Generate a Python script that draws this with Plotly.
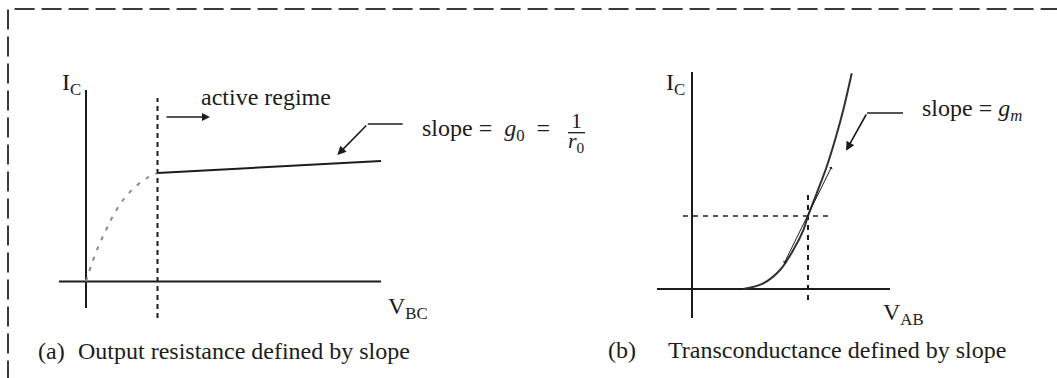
import plotly.graph_objects as go

W, H = 1057, 378

# ---- panel (a): I_C versus V_BC ----
sat_v = [0.0, 0.084, 0.182, 0.280, 0.378, 0.517, 0.671, 0.853, 1.0]
sat_i = [0.0, 0.171, 0.336, 0.475, 0.604, 0.751, 0.862, 0.954, 1.0]
active_v = [1.0, 4.126]
active_i = [1.0, 1.111]
a_vaxis = [-0.378, 4.126]
a_iaxis = [-0.244, 1.765]
knee_v = 1.0
knee_span = [-0.336, 1.691]

# ---- panel (b): I_C versus V_AB ----
exp_v = [0.442, 0.615, 0.759, 0.873, 0.960, 1.0, 1.075, 1.161, 1.233, 1.304, 1.377]
exp_i = [0.0, 0.078, 0.260, 0.534, 0.808, 1.0, 1.311, 1.675, 2.041, 2.452, 2.955]
q_v, q_i = 1.0, 1.0
tangent_v = [0.787, 1.204]
tangent_i = [0.329, 1.675]
b_vaxis = [-0.302, 1.707]
b_iaxis = [-0.397, 2.973]
q_hspan = [-0.078, 1.216]
q_vspan = [-0.151, 1.356]

INK = "#1c1c1c"
SERIF = "Liberation Serif"

fig = go.Figure()


def line(xs, ys, panel, color=INK, width=2, dash=None, shape="linear"):
    xa, ya = ("x", "y") if panel == "a" else ("x2", "y2")
    fig.add_trace(go.Scatter(
        x=xs, y=ys, xaxis=xa, yaxis=ya, mode="lines",
        line=dict(color=color, width=width, dash=dash, shape=shape),
        hoverinfo="skip", showlegend=False))


# panel (a) marks
line(a_vaxis, [0, 0], "a")
line([0, 0], a_iaxis, "a")
line([knee_v, knee_v], knee_span, "a", dash="5px,4px")
line(sat_v, sat_i, "a", color="#8a8a8a", width=2, dash="4px,7px", shape="spline")
line(active_v, active_i, "a", width=2)
line([3.941, 4.429], [1.452, 1.452], "a", width=1.6)

# panel (b) marks
line(b_vaxis, [0, 0], "b")
line([0, 0], b_iaxis, "b")
line(q_hspan, [q_i, q_i], "b", dash="5px,5px", width=1.6)
line([q_v, q_v], q_vspan, "b", dash="5px,5px", width=2)
line(exp_v, exp_i, "b", color="#303030", width=2, shape="spline")
line([1.509, 1.819], [2.411, 2.411], "b", width=1.6)

anns = []


def arrow(tip, tail, panel, width=1.6, head=2, size=1.1, side="end"):
    xr, yr = ("x", "y") if panel == "a" else ("x2", "y2")
    anns.append(dict(
        x=tip[0], y=tip[1], ax=tail[0], ay=tail[1], xref=xr, yref=yr,
        axref=xr, ayref=yr, text="", showarrow=True, arrowhead=head,
        startarrowhead=head, arrowsize=size, startarrowsize=size,
        arrowwidth=width, arrowcolor=INK, arrowside=side, standoff=0,
        startstandoff=0))


# active-regime arrow and slope pointers
arrow((1.734, 1.516), (1.105, 1.516), "a", width=1.6, size=1.0)
arrow((3.515, 1.166), (3.941, 1.452), "a", width=1.6, size=1.1)
arrow((1.328, 1.895), (1.509, 2.411), "b", width=1.6, size=1.1)
# tangent at the operating point
arrow((tangent_v[1], tangent_i[1]), (tangent_v[0], tangent_i[0]), "b",
      width=1, head=1, size=0.7, side="end+start")


def text(s, px, py, xanchor="left", yanchor="middle", size=24):
    anns.append(dict(
        text=s, x=px / W, y=1 - py / H, xref="paper", yref="paper",
        xanchor=xanchor, yanchor=yanchor, showarrow=False,
        font=dict(family=SERIF, size=size, color=INK)))


# panel (a) labels
text("I<sub>C</sub>", 83, 84, xanchor="right")
text("active regime", 199, 97)
text("slope =&nbsp;&nbsp;<i>g</i><sub>0</sub>&nbsp;&nbsp;=", 420, 130)
text("1", 576, 120, xanchor="center", size=22)
text("<i>r</i><sub>0</sub>", 576, 142, xanchor="center", size=22)
text("V<sub>BC</sub>", 386, 308)
text("(a)", 36, 351)
text("Output resistance defined by slope", 76, 351)

# panel (b) labels
text("I<sub>C</sub>", 687, 84, xanchor="right")
text("slope = <i>g<sub>m</sub></i>", 920, 110)
text("V<sub>AB</sub>", 881, 314)
text("(b)", 606, 350)
text("Transconductance defined by slope", 666, 350)

fig.update_layout(
    width=W, height=H, margin=dict(l=0, r=0, t=0, b=0),
    paper_bgcolor="white", plot_bgcolor="white",
    annotations=anns,
    shapes=[
        # fraction bar of 1/r0
        dict(type="line", xref="paper", yref="paper",
             x0=568 / W, x1=585 / W, y0=1 - 132.7 / H, y1=1 - 132.7 / H,
             line=dict(color=INK, width=1.3)),
        # dashed frame around both panels
        dict(type="rect", xref="paper", yref="paper",
             x0=8 / W, x1=1.05, y0=-0.05, y1=1 - 9 / H,
             line=dict(color="#3a3a3a", width=2, dash="20px,7px")),
    ],
    xaxis=dict(domain=[0, 0.5], range=[-1.2028, 6.1888], visible=False),
    yaxis=dict(domain=[0, 1], range=[-0.8894, 2.5945], visible=False),
    xaxis2=dict(domain=[0.5, 1], range=[-1.4095, 3.1466], visible=False,
                anchor="y2"),
    yaxis2=dict(domain=[0, 1], range=[-1.219, 3.959], visible=False,
                anchor="x2"),
)

fig.write_html("out.html")
